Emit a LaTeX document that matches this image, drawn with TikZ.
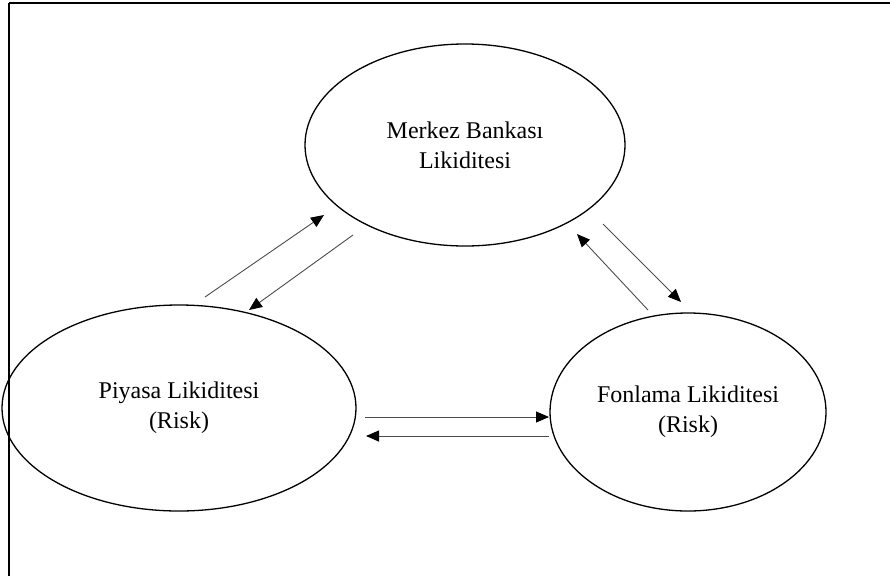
\documentclass[tikz,border=0pt]{standalone}
\usepackage{fontspec}
\setmainfont{Liberation Serif}
\usetikzlibrary{shapes.geometric,arrows.meta}

\tikzset{
  likit/.style={draw, ellipse, line width=1.3pt, inner sep=0pt, align=center,
    font=\fontsize{24}{30}\selectfont},
  akis/.style={-{Triangle[length=13pt,width=11pt,color=black]}, line width=0.9pt, black!70}
}

\begin{document}
\begin{tikzpicture}[x=1pt,y=-1pt]
\useasboundingbox (0,0) rectangle (890,576);

% ===== Frame (top and left only) =====
\draw[line width=2pt] (9,3) -- (890,3);
\draw[line width=2pt] (9,3) -- (9,576);

% ===== Ellipses =====
\node[likit, minimum width=320pt, minimum height=202pt] (merkez) at (465,145) {Merkez Bankası\\Likiditesi};
\node[likit, minimum width=354pt, minimum height=206pt] (piyasa) at (179,408) {Piyasa Likiditesi\\(Risk)};
\node[likit, minimum width=276pt, minimum height=198pt] (fonlama) at (688,412) {Fonlama Likiditesi\\(Risk)};

% ===== Arrow ends =====
\coordinate (pm1) at (205,297);   \coordinate (pm2) at (324,215);
\coordinate (mp1) at (353,235);   \coordinate (mp2) at (249,310);
\coordinate (fm1) at (648,310);   \coordinate (fm2) at (577,234);
\coordinate (mf1) at (603,224);   \coordinate (mf2) at (681,302);
\coordinate (pf1) at (365,417);   \coordinate (pf2) at (549,417);
\coordinate (fp1) at (549,436);   \coordinate (fp2) at (366,436);

% ===== Arrows =====
\draw[akis] (pm1) -- (pm2);
\draw[akis] (mp1) -- (mp2);
\draw[akis] (fm1) -- (fm2);
\draw[akis] (mf1) -- (mf2);
\draw[akis] (pf1) -- (pf2);
\draw[akis] (fp1) -- (fp2);

\end{tikzpicture}
\end{document}
